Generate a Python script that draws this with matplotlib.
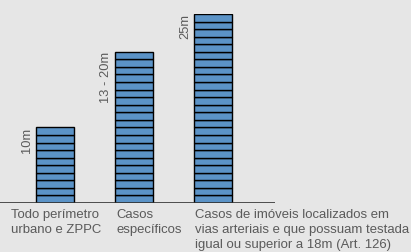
import matplotlib
matplotlib.use('Agg')
import matplotlib.pyplot as plt

plt.rcParams['font.family'] = ['Liberation Sans', 'DejaVu Sans']

categories = ['Todo perímetro\nurbano e ZPPC',
              'Casos\nespecíficos',
              'Casos de imóveis localizados em\nvias arteriais e que possuam testada\nigual ou superior a 18m (Art. 126)']
floors = [10, 20, 25]
height_labels = ['10m', '13 - 20m', '25m']
label_align = ['center', 'left', 'left']

bg = '#e6e6e6'
bar_color = '#5b93c7'
text_color = '#5a5a5a'
bar_w = 0.49

fig = plt.figure(figsize=(4.11, 2.52), dpi=100, facecolor=bg)
ax = fig.add_axes([0, 49 / 252, 275 / 411, 189 / 252])
ax.set_facecolor(bg)

for i, n in enumerate(floors):
    for k in range(n):
        ax.bar(i, 1, bottom=k, width=bar_w, color=bar_color,
               edgecolor='black', linewidth=1.0, zorder=2)
    ax.annotate(height_labels[i], (i - bar_w / 2, n), xytext=(-2, 0),
                textcoords='offset points', rotation=90, ha='right', va='top',
                fontsize=9.3, color=text_color)
    x0 = i if label_align[i] == 'center' else i - bar_w / 2
    ax.annotate(categories[i], (x0, 0), xytext=(1, -4),
                textcoords='offset points', ha=label_align[i], va='top',
                multialignment='left',
                fontsize=9.45, color=text_color, linespacing=1.38,
                annotation_clip=False)

ax.axhline(0, color='#333333', linewidth=1.2, zorder=3)
ax.set_xlim(-55 / 79, 220 / 79)
ax.set_ylim(0, 25)
for s in ax.spines.values():
    s.set_visible(False)
ax.set_xticks([])
ax.set_yticks([])

fig.savefig('out.png', dpi=100, facecolor=bg)
